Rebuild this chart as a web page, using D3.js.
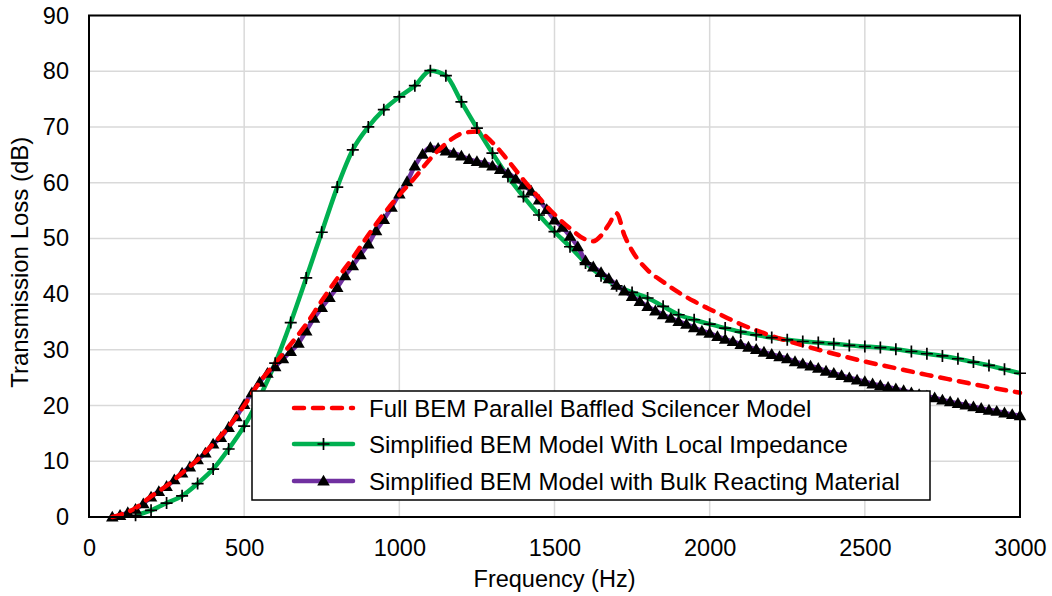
<!DOCTYPE html>
<html><head><meta charset="utf-8">
<script src="https://cdn.jsdelivr.net/npm/d3@7"></script>
<style>body{margin:0;background:#fff}svg{display:block;font-family:"Liberation Sans",Arial,sans-serif}</style>
</head><body><svg id="c" width="1052" height="596"></svg>
<script>
const xTicks = [0,500,1000,1500,2000,2500,3000];
const yTicks = [0,10,20,30,40,50,60,70,80,90];
const seriesNames = ["Full BEM Parallel Baffled Scilencer Model","Simplified BEM Model With Local Impedance","Simplified BEM Model with Bulk Reacting Material"];

const fullFreq = [75,100,150,200,250,300,350,400,450,500,550,600,650,700,750,800,850,900,950,1000,1050,1100,1150,1200,1250,1300,1350,1400,1450,1500,1550,1600,1625,1650,1675,1700,1725,1750,1800,1850,1900,1950,2000,2100,2200,2300,2400,2500,2600,2700,2800,2900,3000];
const fullTL = [0,0.4,1.6,3.7,5.6,7.9,10.3,13.1,16.2,20.0,24.2,27.6,31.0,34.6,38.8,42.8,46.5,50.6,54.4,57.8,60.9,64.3,67.0,68.8,69.2,67.2,64.0,60.5,57.3,54.3,51.8,49.8,49.5,50.5,52.5,54.5,50.6,47.8,44.3,42.2,40.3,38.7,37.3,34.6,32.5,30.8,29.3,27.9,26.7,25.5,24.4,23.3,22.3];

const localFreq = [150,200,250,300,350,400,450,500,550,600,650,700,750,800,850,900,950,1000,1050,1100,1150,1200,1250,1300,1350,1400,1450,1500,1550,1600,1650,1700,1750,1800,1850,1900,1950,2000,2050,2100,2150,2200,2250,2300,2350,2400,2450,2500,2550,2600,2650,2700,2750,2800,2850,2900,2950,3000];
const localTL = [0.3,1.2,2.5,3.8,6.0,8.6,12.2,16.3,21.5,27.6,34.9,42.9,51.1,59.2,65.9,70.0,73.1,75.4,77.4,80.1,79.2,74.5,69.8,65.3,61.1,57.5,54.2,51.2,48.5,45.6,43.3,41.5,40.3,39.3,37.8,36.3,35.4,34.6,33.9,33.2,32.7,32.2,31.8,31.5,31.3,31.1,30.8,30.6,30.4,30.1,29.7,29.3,28.9,28.4,27.8,27.2,26.5,25.8];

const bulkFreq = [75,100,125,150,175,200,225,250,275,300,325,350,375,400,425,450,475,500,525,550,575,600,625,650,675,700,725,750,775,800,825,850,875,900,925,950,975,1000,1025,1050,1075,1100,1125,1150,1175,1200,1225,1250,1275,1300,1325,1350,1375,1400,1425,1450,1475,1500,1525,1550,1575,1600,1625,1650,1675,1700,1725,1750,1775,1800,1825,1850,1875,1900,1925,1950,1975,2000,2025,2050,2075,2100,2125,2150,2175,2200,2225,2250,2275,2300,2325,2350,2375,2400,2425,2450,2475,2500,2525,2550,2575,2600,2625,2650,2675,2700,2725,2750,2775,2800,2825,2850,2875,2900,2925,2950,2975,3000];
const bulkTL = [0.0,0.3,0.8,1.4,2.4,3.6,4.6,5.5,6.7,7.9,9.0,10.3,11.5,13.1,14.3,16.1,18.0,20.2,22.3,24.2,25.8,27.0,28.4,29.7,31.2,33.4,35.7,37.6,39.4,41.2,43.3,45.1,47.1,49.0,51.4,53.4,55.6,58.0,60.2,63.0,65.1,66.3,66.2,65.7,65.3,64.8,64.2,63.8,63.5,63.0,62.4,61.7,60.7,59.6,58.5,56.9,55.2,53.3,52.0,50.4,48.5,46.0,44.9,43.9,42.8,41.6,40.6,39.6,38.7,37.8,37.0,36.3,35.7,35.1,34.6,34.0,33.4,33.0,32.4,31.9,31.5,31.0,30.5,30.1,29.6,29.2,28.8,28.4,27.9,27.5,27.1,26.7,26.2,25.8,25.4,25.0,24.6,24.3,23.9,23.6,23.3,23.0,22.7,22.3,22.0,21.7,21.4,21.0,20.7,20.4,20.1,19.8,19.5,19.2,19.0,18.7,18.4,18.2];

const FS = 23.5;
const svg = d3.select("#c");
const L=89, R=1020, T=15.5, B=517;
const x = d3.scaleLinear().domain([0,3000]).range([L,R]);
const y = d3.scaleLinear().domain([0,90]).range([B,T]);

// grid
const g = svg.append("g");
g.selectAll(".gx").data(xTicks).join("line").attr("x1",d=>x(d)).attr("x2",d=>x(d)).attr("y1",T).attr("y2",B).attr("stroke","#d9d9d9").attr("stroke-width",1.5);
g.selectAll(".gy").data(yTicks).join("line").attr("x1",L).attr("x2",R).attr("y1",d=>y(d)).attr("y2",d=>y(d)).attr("stroke","#d9d9d9").attr("stroke-width",1.5);

// axes labels
const xa = svg.append("g").attr("transform",`translate(0,${B})`).call(d3.axisBottom(x).tickValues(xTicks).tickFormat(d3.format("d")).tickSize(0).tickPadding(22));
xa.select(".domain").remove();
xa.selectAll("text").attr("font-size",FS).attr("fill","#000").attr("font-family","Liberation Sans, Arial, sans-serif");
const ya = svg.append("g").attr("transform",`translate(${L},0)`).call(d3.axisLeft(y).tickValues(yTicks).tickFormat(d3.format("d")).tickSize(0).tickPadding(20));
ya.select(".domain").remove();
ya.selectAll("text").attr("font-size",FS).attr("fill","#000").attr("font-family","Liberation Sans, Arial, sans-serif");

svg.append("text").attr("x",(L+R)/2).attr("y",587).attr("text-anchor","middle").attr("font-size",FS).text("Frequency (Hz)");
svg.append("text").attr("transform",`translate(28,${(T+B)/2 - 4}) rotate(-90)`).attr("text-anchor","middle").attr("font-size",24).text("Transmission Loss (dB)");

// lines
const line = d3.line().x(d=>x(d[0])).y(d=>y(d[1])).curve(d3.curveMonotoneX);
const fullData = fullFreq.map((f,i)=>[f,fullTL[i]]);
const localData = localFreq.map((f,i)=>[f,localTL[i]]);
const bulkData = bulkFreq.map((f,i)=>[f,bulkTL[i]]);

const plot = svg.append("g");
plot.append("path").datum(localData).attr("d",line).attr("fill","none").attr("stroke","#00b050").attr("stroke-width",4.5).attr("stroke-linejoin","round");
plot.append("path").datum(bulkData).attr("d",line).attr("fill","none").attr("stroke","#7030a0").attr("stroke-width",4.5).attr("stroke-linejoin","round");
const tri = d3.symbol().type(d3.symbolTriangle).size(68);
plot.selectAll(".tri").data(bulkData).join("path").attr("d",tri).attr("transform",d=>`translate(${x(d[0])},${y(d[1])+1})`).attr("fill","#000");
plot.append("path").datum(fullData).attr("d",line).attr("fill","none").attr("stroke","#ff0000").attr("stroke-width",4.5).attr("stroke-dasharray","10,9").attr("stroke-linecap","round").attr("stroke-linejoin","round");
const plus = (px,py,s)=>`M${px-s},${py}H${px+s}M${px},${py-s}V${py+s}`;
plot.selectAll(".pl").data(localData).join("path").attr("d",d=>plus(x(d[0]),y(d[1]),6)).attr("stroke","#000").attr("stroke-width",1.7).attr("fill","none");

// frame
svg.append("rect").attr("x",L).attr("y",T).attr("width",R-L).attr("height",B-T).attr("fill","none").attr("stroke","#000").attr("stroke-width",2);

// legend
const lg = svg.append("g");
lg.append("rect").attr("x",252).attr("y",391).attr("width",678).attr("height",109).attr("fill","#fff").attr("stroke","#000").attr("stroke-width",1.5);
const rows = [408,444,481];
const lx1=294, lx2=353, mid=(294+353)/2;
lg.append("line").attr("x1",lx1).attr("x2",lx2).attr("y1",rows[0]).attr("y2",rows[0]).attr("stroke","#ff0000").attr("stroke-width",4.5).attr("stroke-dasharray","10,9").attr("stroke-linecap","round");
lg.append("line").attr("x1",lx1).attr("x2",lx2).attr("y1",rows[1]).attr("y2",rows[1]).attr("stroke","#00b050").attr("stroke-width",4.5).attr("stroke-linecap","round");
lg.append("path").attr("d",plus(mid,rows[1],6)).attr("stroke","#000").attr("stroke-width",1.7);
lg.append("line").attr("x1",lx1).attr("x2",lx2).attr("y1",rows[2]).attr("y2",rows[2]).attr("stroke","#7030a0").attr("stroke-width",4.5).attr("stroke-linecap","round");
lg.append("path").attr("d",tri).attr("transform",`translate(${mid},${rows[2]+1})`).attr("fill","#000");
lg.selectAll(".lt").data(seriesNames).join("text").attr("x",369).attr("y",(d,i)=>rows[i]+8.5).attr("font-size",24).text(d=>d);
</script></body></html>
